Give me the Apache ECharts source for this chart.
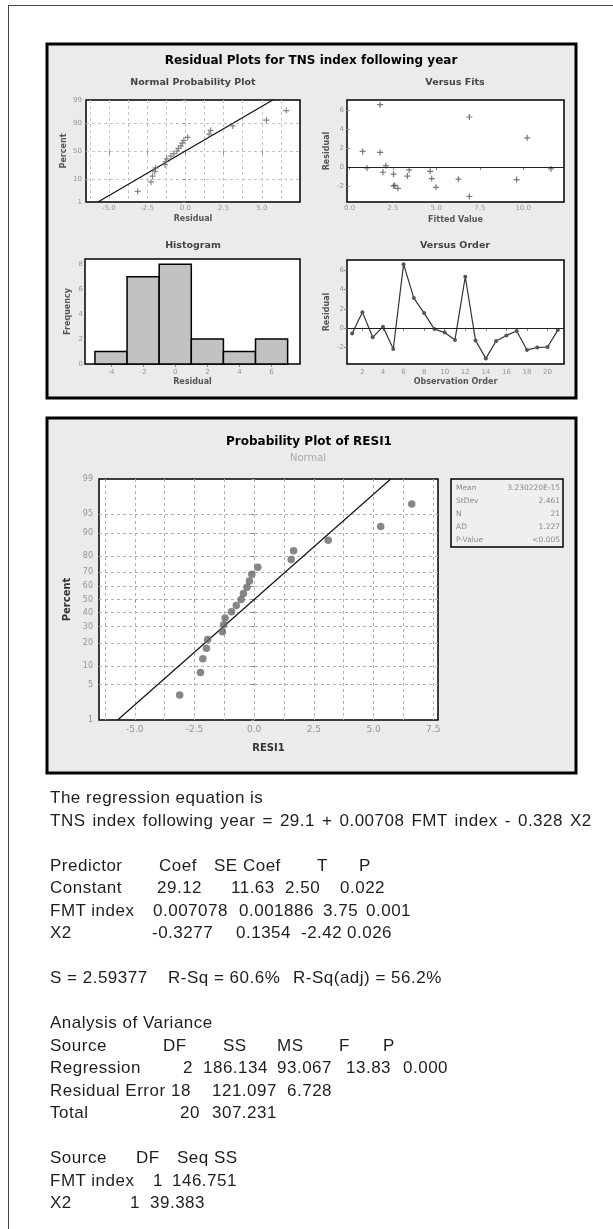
<!DOCTYPE html>
<html><head><meta charset="utf-8">
<script src="https://cdn.jsdelivr.net/npm/echarts@6/dist/echarts.min.js"></script>
<style>
html,body{margin:0;padding:0;background:#fff;}
#wrap{position:relative;width:613px;height:1229px;overflow:hidden;background:#fff;}
#frame{position:absolute;left:8px;top:5px;width:800px;height:1400px;border-left:1.5px solid #444;border-top:1.5px solid #444;}
#chart{position:absolute;left:0;top:0;width:613px;height:1229px;}
#session{position:absolute;left:0;top:0;width:613px;height:1229px;font-family:"Liberation Sans",Arial,sans-serif;font-size:17px;letter-spacing:0.5px;color:#1e1e1e;pointer-events:none;}
#session span{position:absolute;white-space:pre;line-height:1;transform:translateY(-50%);}
</style></head>
<body>
<div id="wrap"><div id="frame"></div><div id="chart"></div><div id="session"></div></div>
<script>
// ---------------- data ----------------
const observationOrder = [1,2,3,4,5,6,7,8,9,10,11,12,13,14,15,16,17,18,19,20,21];
const residuals = [-0.55,1.65,-0.95,0.15,-2.15,6.6,3.1,1.55,-0.1,-0.45,-1.22,5.3,-1.28,-3.12,-1.33,-0.75,-0.3,-2.25,-2.0,-1.95,-0.2];
const fittedValues = [1.92,0.75,3.33,2.09,4.98,1.76,10.23,1.76,1.0,4.64,4.73,6.9,6.27,6.9,9.62,2.53,3.43,2.78,2.53,2.6,11.6];
const probPercents = [3.27,7.94,12.62,17.29,21.96,26.64,31.31,35.98,40.65,45.33,50.0,54.67,59.35,64.02,68.69,73.36,78.04,82.71,87.38,92.06,96.73];
const fitLineResidual = [-5.72,5.72];
const fitLinePercent = [1,99];
const histBinCenters = [-4,-2,0,2,4,6];
const histCounts = [1,7,8,2,1,2];
const histBinWidth = 2;
const nppPercentTicks = [1,10,50,90,99];
const nppPercentGrid = [10,50,90];
const probPercentTicks = [1,5,10,20,30,40,50,60,70,80,90,95,99];
const probPercentGrid = [5,10,20,30,40,50,60,70,80,90,95];
const nppResidualTicks = [-5,-2.5,0,2.5,5];
const probResidualTicks = [-5,-2.5,0,2.5,5,7.5];
const nppResidualGrid = [-6.25,-5,-3.75,-2.5,-1.25,0,1.25,2.5,3.75,5,6.25];
const probResidualGrid = [-6.25,-5,-3.75,-2.5,-1.25,0,1.25,2.5,3.75,5,6.25,7.5];
const fittedTicks = [0,2.5,5,7.5,10];
const residualYTicks = [-2,0,2,4,6];
const histXTicks = [-4,-2,0,2,4,6];
const histYTicks = [0,2,4,6,8];
const orderTicks = [2,4,6,8,10,12,14,16,18,20];
const statLabels = ['Mean','StDev','N','AD','P-Value'];
const statValues = ['3.230220E-15','2.461','21','1.227','<0.005'];

// ---------------- helpers ----------------
function probit(p){
  const a=[-3.969683028665376e+01,2.209460984245205e+02,-2.759285104469687e+02,1.383577518672690e+02,-3.066479806614716e+01,2.506628277459239e+00];
  const b=[-5.447609879822406e+01,1.615858368580409e+02,-1.556989798598866e+02,6.680131188771972e+01,-1.328068155288572e+01];
  const c=[-7.784894002430293e-03,-3.223964580411365e-01,-2.400758277161838e+00,-2.549732539343734e+00,4.374664141464968e+00,2.938163982698783e+00];
  const d=[7.784695709041462e-03,3.224671290700398e-01,2.445134137142996e+00,3.754408661907416e+00];
  const pl=0.02425; let q,r;
  if(p<pl){q=Math.sqrt(-2*Math.log(p));return (((((c[0]*q+c[1])*q+c[2])*q+c[3])*q+c[4])*q+c[5])/((((d[0]*q+d[1])*q+d[2])*q+d[3])*q+1);}
  if(p>1-pl){q=Math.sqrt(-2*Math.log(1-p));return -(((((c[0]*q+c[1])*q+c[2])*q+c[3])*q+c[4])*q+c[5])/((((d[0]*q+d[1])*q+d[2])*q+d[3])*q+1);}
  q=p-0.5;r=q*q;return (((((a[0]*r+a[1])*r+a[2])*r+a[3])*r+a[4])*r+a[5])*q/(((((b[0]*r+b[1])*r+b[2])*r+b[3])*r+b[4])*r+1);
}
const z = p => probit(p/100);
function pctFmt(ticks){return v=>{let best=ticks[0];ticks.forEach(p=>{if(Math.abs(z(p)-v)<Math.abs(z(best)-v))best=p;});return String(best);};}
const f1 = v => v.toFixed(1);
const f0 = v => String(Math.round(v));

const SANS = '"DejaVu Sans", sans-serif';
const TICK = {color:'#959595', fontSize:7, fontFamily:SANS};
const NAME = {color:'#555', fontSize:8, fontWeight:'bold', fontFamily:SANS};
const plus = 'path://M4,0h2v4h4v2h-4v4h-2v-4h-4v-2h4z';

function axis(opt){
  const o = {
    type:'value', gridIndex:opt.grid, min:opt.min, max:opt.max,
    axisLine:{show:false},
    axisTick:{show:true, customValues:opt.ticks, length:3, lineStyle:{color:'#888'}},
    axisLabel:{customValues:opt.ticks, formatter:opt.fmt, margin:opt.margin||3, ...(opt.label||TICK)},
    splitLine:{show:false},
    name:opt.name, nameLocation:'middle', nameGap:opt.gap, nameTextStyle:opt.nameStyle||NAME
  };
  if(opt.position) o.position = opt.position;
  return o;
}
function gridLinesAxis(kind, g, min, max, ticks, color){
  return {type:'value', gridIndex:g, min, max, position:kind==='x'?'bottom':'left',
    axisLine:{show:false}, axisTick:{show:false, customValues:ticks}, axisLabel:{show:false, customValues:ticks},
    splitLine:{show:true, lineStyle:{color, type:[3,3], width:1}}};
}
const gridBase = {show:true, backgroundColor:'#fff', borderColor:'#000', borderWidth:1.5, containLabel:false, outerBoundsMode:'none'};

const sortedResiduals = residuals.slice().sort((a,b)=>a-b);
const probData = sortedResiduals.map((r,i)=>[r, z(probPercents[i])]);
const fitLineData = fitLineResidual.map((r,i)=>[r, z(fitLinePercent[i])]);

const panelFill = '#ebebeb';
function centerText(x,y,text,style){return {type:'text', x, y, silent:true, style:Object.assign({text, align:'center', verticalAlign:'middle', fontFamily:SANS}, style)};}

const graphics = [
  {type:'rect', z:-10, shape:{x:47,y:44,width:529,height:354}, style:{fill:panelFill, stroke:'#000', lineWidth:3}},
  {type:'rect', z:-10, shape:{x:47,y:418,width:529,height:355}, style:{fill:panelFill, stroke:'#000', lineWidth:3}},
  centerText(311,61,'Residual Plots for TNS index following year',{fontSize:12,fontWeight:'bold',fill:'#000'}),
  centerText(193,83,'Normal Probability Plot',{fontSize:9.5,fontWeight:'bold',fill:'#444'}),
  centerText(455,83,'Versus Fits',{fontSize:9.5,fontWeight:'bold',fill:'#444'}),
  centerText(193,246,'Histogram',{fontSize:9.5,fontWeight:'bold',fill:'#444'}),
  centerText(455,246,'Versus Order',{fontSize:9.5,fontWeight:'bold',fill:'#444'}),
  centerText(309,442,'Probability Plot of RESI1',{fontSize:12,fontWeight:'bold',fill:'#000'}),
  centerText(308,458,'Normal',{fontSize:10,fill:'#aaa'}),
  {type:'rect', z:-5, shape:{x:451,y:479,width:112,height:68}, style:{fill:'#efefef', stroke:'#000', lineWidth:1.5}}
];
statLabels.forEach((l,i)=>{
  graphics.push({type:'text', x:456, y:488+i*13, silent:true, style:{text:l, align:'left', verticalAlign:'middle', fontFamily:SANS, fontSize:7.5, fill:'#8a8a8a'}});
  graphics.push({type:'text', x:560, y:488+i*13, silent:true, style:{text:statValues[i], align:'right', verticalAlign:'middle', fontFamily:SANS, fontSize:7.5, fill:'#8a8a8a'}});
});

const zeroLine = {silent:true, symbol:'none', label:{show:false}, lineStyle:{color:'#222', type:'solid', width:1.2}, data:[{yAxis:0}]};

const option = {
  animation:false,
  grid:[
    Object.assign({left:86, top:100, width:214, height:102}, gridBase),
    Object.assign({left:347, top:100, width:217, height:102}, gridBase),
    Object.assign({left:85, top:259, width:215, height:105}, gridBase),
    Object.assign({left:347, top:260, width:217, height:104}, gridBase),
    Object.assign({left:99, top:479, width:339, height:241}, gridBase)
  ],
  xAxis:[
    axis({grid:0, min:-6.5, max:7.5, ticks:nppResidualTicks, fmt:f1, name:'Residual', gap:13, position:'bottom'}),
    gridLinesAxis('x', 0, -6.5, 7.5, nppResidualGrid, '#c4c4c4'),
    axis({grid:1, min:-0.15, max:12.35, ticks:fittedTicks, fmt:f1, name:'Fitted Value', gap:14}),
    axis({grid:2, min:-5.62, max:7.77, ticks:histXTicks, fmt:f0, name:'Residual', gap:14, margin:5}),
    axis({grid:3, min:0.5, max:21.6, ticks:orderTicks, fmt:f0, name:'Observation Order', gap:14, margin:5}),
    axis({grid:4, min:-6.5, max:7.7, ticks:probResidualTicks, fmt:f1, name:'RESI1', gap:23, margin:5, position:'bottom',
      label:{color:'#959595', fontSize:9, fontFamily:SANS}, nameStyle:{color:'#333', fontSize:10, fontWeight:'bold', fontFamily:SANS}}),
    gridLinesAxis('x', 4, -6.5, 7.7, probResidualGrid, '#b0b0b0')
  ],
  yAxis:[
    axis({grid:0, min:z(1), max:z(99), ticks:nppPercentTicks.map(z), fmt:pctFmt(nppPercentTicks), name:'Percent', gap:18, margin:4}),
    axis({grid:1, min:-3.7, max:7.1, ticks:residualYTicks, fmt:f0, name:'Residual', gap:16}),
    axis({grid:2, min:0, max:8.43, ticks:histYTicks, fmt:f0, name:'Frequency', gap:13, margin:2}),
    axis({grid:3, min:-3.7, max:7.03, ticks:residualYTicks, fmt:f0, name:'Residual', gap:16}),
    axis({grid:4, min:z(1), max:z(99), ticks:probPercentTicks.map(z), fmt:pctFmt(probPercentTicks), name:'Percent', gap:20, margin:6,
      label:{color:'#959595', fontSize:8, fontFamily:SANS}, nameStyle:{color:'#333', fontSize:10, fontWeight:'bold', fontFamily:SANS}}),
    gridLinesAxis('y', 0, z(1), z(99), nppPercentGrid.map(z), '#c4c4c4'),
    gridLinesAxis('y', 4, z(1), z(99), probPercentGrid.map(z), '#b0b0b0')
  ],
  series:[
    {type:'scatter', xAxisIndex:0, yAxisIndex:0, symbol:plus, symbolSize:6, itemStyle:{color:'#6a6a6a'}, data:probData, z:4},
    {type:'line', xAxisIndex:0, yAxisIndex:0, symbol:'none', lineStyle:{color:'#111', width:1.2}, data:fitLineData, z:3},
    {type:'scatter', xAxisIndex:2, yAxisIndex:1, symbol:plus, symbolSize:6, itemStyle:{color:'#555'},
      data:fittedValues.map((f,i)=>[f, residuals[i]]), markLine:zeroLine},
    {type:'custom', xAxisIndex:3, yAxisIndex:2, data:histBinCenters.map((c,i)=>[c, histCounts[i]]),
      renderItem:(params, api)=>{const c=api.value(0), n=api.value(1);
        const p0=api.coord([c-histBinWidth/2, n]), p1=api.coord([c+histBinWidth/2, 0]);
        return {type:'rect', shape:{x:p0[0], y:p0[1], width:p1[0]-p0[0], height:p1[1]-p0[1]}, style:{fill:'#c2c2c2', stroke:'#000', lineWidth:1.5}};}},
    {type:'line', xAxisIndex:4, yAxisIndex:3, symbol:'circle', symbolSize:4, itemStyle:{color:'#555'}, lineStyle:{color:'#333', width:1.2},
      data:observationOrder.map((o,i)=>[o, residuals[i]]), markLine:zeroLine},
    {type:'scatter', xAxisIndex:5, yAxisIndex:4, symbol:'circle', symbolSize:7.5, itemStyle:{color:'#686868'}, data:probData, z:4},
    {type:'line', xAxisIndex:5, yAxisIndex:4, symbol:'none', lineStyle:{color:'#111', width:1.2}, data:fitLineData, z:3}
  ],
  graphic:graphics
};
const chart = echarts.init(document.getElementById('chart'), null, {renderer:'canvas'});
chart.setOption(option);

// ---------------- session output (text) ----------------
const sessionLines = [
  [797, [[50,'The regression equation is']]],
  [819.5, [[50,'TNS index following year = 29.1 + 0.00708 FMT index - 0.328 X2','word-spacing:1.8px']]],
  [864.5, [[50,'Predictor'],[159,'Coef'],[214,'SE Coef'],[317,'T'],[359,'P']]],
  [887, [[50,'Constant'],[157,'29.12'],[231,'11.63'],[285,'2.50'],[340,'0.022']]],
  [909.5, [[50,'FMT index'],[153,'0.007078'],[239,'0.001886'],[323,'3.75'],[366,'0.001']]],
  [932, [[50,'X2'],[152,'-0.3277'],[236,'0.1354'],[301,'-2.42'],[347,'0.026']]],
  [977, [[50,'S = 2.59377'],[168,'R-Sq = 60.6%'],[293,'R-Sq(adj) = 56.2%']]],
  [1022, [[50,'Analysis of Variance']]],
  [1044.5, [[50,'Source'],[163,'DF'],[223,'SS'],[277,'MS'],[339,'F'],[383,'P']]],
  [1067, [[50,'Regression'],[183,'2'],[203,'186.134'],[277,'93.067'],[346,'13.83'],[403,'0.000']]],
  [1089.5, [[50,'Residual Error'],[171,'18'],[212,'121.097'],[287,'6.728']]],
  [1112, [[50,'Total'],[180,'20'],[212,'307.231']]],
  [1157, [[50,'Source'],[136,'DF'],[177,'Seq SS']]],
  [1179.5, [[50,'FMT index'],[153,'1'],[172,'146.751']]],
  [1202, [[50,'X2'],[130,'1'],[150,'39.383']]]
];
const sess = document.getElementById('session');
sessionLines.forEach(([y, toks])=>toks.forEach(([x,t,extra])=>{
  const s=document.createElement('span'); s.textContent=t; s.style.left=x+'px'; s.style.top=y+'px';
  if(extra) s.style.cssText += ';'+extra;
  sess.appendChild(s);
}));
</script>
</body></html>
